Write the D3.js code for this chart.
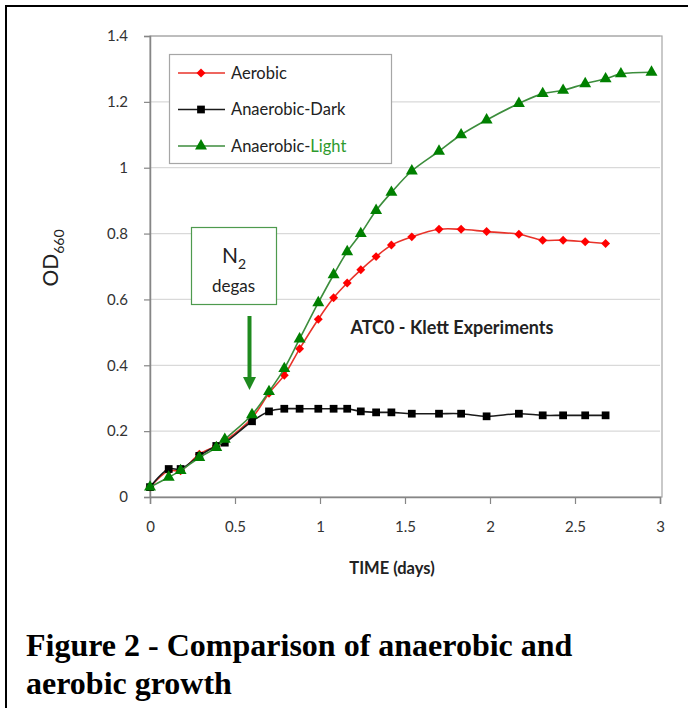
<!DOCTYPE html>
<html>
<head>
<meta charset="utf-8">
<script src="https://cdn.jsdelivr.net/npm/d3@7"></script>
<style>
  body { margin: 0; background: #fff; }
  svg { display: block; }
</style>
</head>
<body>
<svg id="chart" width="688" height="708"></svg>
<script>
// sampling times (days), shared by the three cultures
const days = [0, 0.11, 0.18, 0.29, 0.39, 0.44, 0.60, 0.70, 0.79, 0.88, 0.99, 1.08, 1.16, 1.24,
  1.33, 1.42, 1.54, 1.70, 1.83, 1.98, 2.17, 2.31, 2.43, 2.56, 2.68];
const lightExtraDays = [2.77, 2.95];

const aerobic = [0.03, 0.08, 0.08, 0.13, 0.155, 0.17, 0.24, 0.315, 0.37, 0.45, 0.54, 0.605, 0.65,
  0.69, 0.73, 0.765, 0.79, 0.813, 0.813, 0.806, 0.798, 0.78, 0.78, 0.775, 0.77];
const anaerobicDark = [0.03, 0.085, 0.085, 0.125, 0.155, 0.165, 0.23, 0.26, 0.268, 0.268, 0.268,
  0.268, 0.268, 0.26, 0.257, 0.257, 0.253, 0.253, 0.253, 0.245, 0.253, 0.248, 0.248, 0.248, 0.248];
const anaerobicLight = [0.03, 0.06, 0.08, 0.12, 0.15, 0.175, 0.25, 0.32, 0.39, 0.48, 0.59, 0.675,
  0.745, 0.80, 0.87, 0.925, 0.99, 1.05, 1.10, 1.145, 1.195, 1.225, 1.235, 1.255, 1.27, 1.285, 1.29];

const xTicks = [0, 0.5, 1, 1.5, 2, 2.5, 3];
const yTicks = [0, 0.2, 0.4, 0.6, 0.8, 1, 1.2, 1.4];

const series = [
  { name: 'Aerobic', color: '#ff0000', line: '#e8332a', marker: 'diamond',
    points: days.map((d, i) => [d, aerobic[i]]) },
  { name: 'Anaerobic-Dark', color: '#000000', line: '#1a1a1a', marker: 'square',
    points: days.map((d, i) => [d, anaerobicDark[i]]) },
  { name: 'Anaerobic-Light', color: '#008000', line: '#3c8d3c', marker: 'triangle',
    points: days.concat(lightExtraDays).map((d, i) => [d, anaerobicLight[i]]) }
];

const svg = d3.select('#chart');
const font = 'Lato, "Open Sans", sans-serif';

// outer frame of the figure
svg.append('path')
  .attr('d', 'M6,720 V6 H700')
  .attr('fill', 'none')
  .attr('stroke', '#000')
  .attr('stroke-width', 2);

const plot = { left: 150, right: 660, top: 36, bottom: 497 };

const x = d3.scaleLinear().domain([0, 3]).range([plot.left, plot.right]);
const y = d3.scaleLinear().domain([0, 1.4]).range([plot.bottom, plot.top]);

// gridlines
svg.append('g')
  .selectAll('line')
  .data(yTicks.slice(1))
  .join('line')
    .attr('x1', plot.left).attr('x2', plot.right)
    .attr('y1', d => y(d)).attr('y2', d => y(d))
    .attr('stroke', '#d9d9d9')
    .attr('stroke-width', 1.3);

// plot area border
svg.append('rect')
  .attr('x', plot.left).attr('y', plot.top)
  .attr('width', plot.right - plot.left + 2).attr('height', plot.bottom - plot.top)
  .attr('fill', 'none')
  .attr('stroke', '#a6a6a6')
  .attr('stroke-width', 1.2);

const fmt = d3.format('~g');

const yAxis = svg.append('g')
  .attr('transform', `translate(${plot.left},0)`)
  .call(d3.axisLeft(y).tickValues(yTicks).tickFormat(fmt).tickSize(6).tickPadding(16));
const xAxis = svg.append('g')
  .attr('transform', `translate(0,${plot.bottom})`)
  .call(d3.axisBottom(x).tickValues(xTicks).tickFormat(fmt).tickSize(7).tickPadding(17));

[yAxis, xAxis].forEach(ax => {
  ax.select('.domain').attr('stroke', '#868686').attr('stroke-width', 1.5);
  ax.selectAll('.tick line').attr('stroke', '#868686').attr('stroke-width', 1.2);
  ax.selectAll('.tick text')
    .attr('fill', '#333')
    .style('font-family', font)
    .style('font-size', '15px');
});

// axis titles
const yTitle = svg.append('text')
  .attr('transform', 'translate(58,258) rotate(-90)')
  .attr('text-anchor', 'middle')
  .attr('fill', '#222')
  .style('font-family', font)
  .style('font-size', '21px');
yTitle.append('tspan').text('OD');
yTitle.append('tspan').attr('dy', 6).style('font-size', '14px').text('660');

svg.append('text')
  .attr('x', 392).attr('y', 574)
  .attr('text-anchor', 'middle')
  .attr('fill', '#222')
  .style('font-family', font)
  .style('font-size', '16.5px')
  .style('font-weight', 'bold')
  .text('TIME (days)');

// marker shapes, drawn with d3.symbol
const symbolFor = {
  diamond: { type: d3.symbolSquare, size: 40, rotate: 45 },
  square: { type: d3.symbolSquare, size: 60, rotate: 0 },
  triangle: { type: d3.symbolTriangle, size: 62, rotate: 0 }
};

const line = d3.line()
  .x(d => x(d[0]))
  .y(d => y(d[1]))
  .curve(d3.curveCatmullRom.alpha(0.5));

const seriesG = svg.append('g')
  .selectAll('g')
  .data(series)
  .join('g');

seriesG.append('path')
  .attr('d', d => line(d.points))
  .attr('fill', 'none')
  .attr('stroke', d => d.line)
  .attr('stroke-width', 1.6);

seriesG.each(function (s) {
  const sym = symbolFor[s.marker];
  d3.select(this).selectAll('path.marker')
    .data(s.points)
    .join('path')
      .attr('class', 'marker')
      .attr('d', d3.symbol(sym.type, sym.size)())
      .attr('transform', d => `translate(${x(d[0])},${y(d[1])}) rotate(${sym.rotate})`)
      .attr('fill', s.color);
});

// legend
const legend = svg.append('g');
legend.append('rect')
  .attr('x', 169.5).attr('y', 54.5)
  .attr('width', 222).attr('height', 109)
  .attr('fill', '#fff')
  .attr('stroke', '#a6a6a6')
  .attr('stroke-width', 1.2);

const legendRow = legend.selectAll('g.row')
  .data(series)
  .join('g')
    .attr('class', 'row')
    .attr('transform', (d, i) => `translate(0,${73 + i * 36.5})`);

legendRow.append('line')
  .attr('x1', 178).attr('x2', 225)
  .attr('stroke', d => d.line)
  .attr('stroke-width', 1.6);
legendRow.append('path')
  .attr('d', d => d3.symbol(symbolFor[d.marker].type, symbolFor[d.marker].size)())
  .attr('transform', d => `translate(201,0) rotate(${symbolFor[d.marker].rotate})`)
  .attr('fill', d => d.color);

const legendText = legendRow.append('text')
  .attr('x', 231).attr('y', 5.5)
  .attr('fill', '#222')
  .style('font-family', font)
  .style('font-size', '16.5px');
legendText.each(function (d) {
  const t = d3.select(this);
  if (d.name === 'Anaerobic-Light') {
    t.append('tspan').text('Anaerobic-');
    t.append('tspan').attr('fill', '#2e9a2e').text('Light');
  } else {
    t.text(d.name);
  }
});

// N2 degas annotation
const note = svg.append('g');
note.append('rect')
  .attr('x', 191.5).attr('y', 227.5)
  .attr('width', 85).attr('height', 77)
  .attr('fill', '#fff')
  .attr('stroke', '#4e9a4e')
  .attr('stroke-width', 1.2);
const n2 = note.append('text')
  .attr('x', 234).attr('y', 263)
  .attr('text-anchor', 'middle')
  .attr('fill', '#222')
  .style('font-family', font)
  .style('font-size', '21px');
n2.append('tspan').text('N');
n2.append('tspan').attr('dy', 6).style('font-size', '14px').text('2');
note.append('text')
  .attr('x', 233.5).attr('y', 292)
  .attr('text-anchor', 'middle')
  .attr('fill', '#222')
  .style('font-family', font)
  .style('font-size', '17px')
  .text('degas');

note.append('line')
  .attr('x1', 249.5).attr('x2', 249.5)
  .attr('y1', 316).attr('y2', 378)
  .attr('stroke', '#1e8a1e')
  .attr('stroke-width', 4);
note.append('path')
  .attr('d', 'M243,377 L256,377 L249.5,390 Z')
  .attr('fill', '#1e8a1e');

svg.append('text')
  .attr('x', 452).attr('y', 334)
  .attr('text-anchor', 'middle')
  .attr('fill', '#222')
  .style('font-family', font)
  .style('font-size', '18px')
  .style('font-weight', 'bold')
  .text('ATC0 - Klett Experiments');

// figure caption
const caption = svg.append('g')
  .style('font-family', '"Liberation Serif", "Times New Roman", serif')
  .style('font-weight', 'bold')
  .style('font-size', '32px')
  .attr('fill', '#000');
caption.append('text').attr('x', 26).attr('y', 656)
  .text('Figure 2 - Comparison of anaerobic and');
caption.append('text').attr('x', 26).attr('y', 694)
  .text('aerobic growth');
</script>
</body>
</html>
